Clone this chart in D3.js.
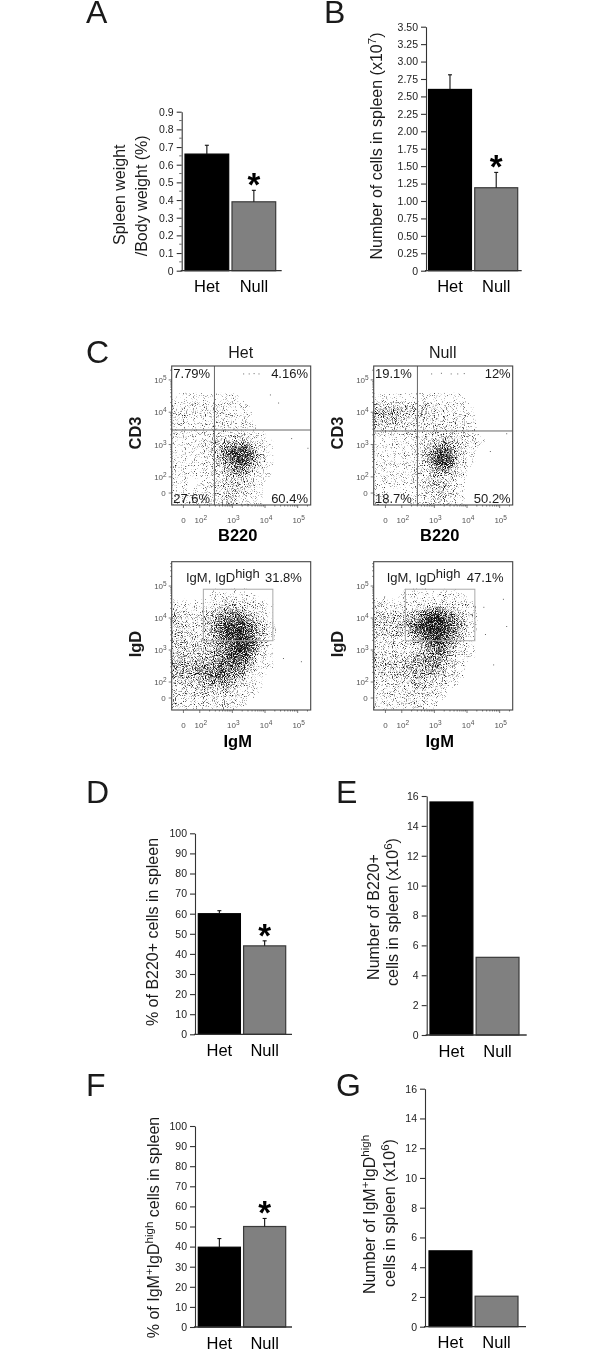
<!DOCTYPE html>
<html><head><meta charset="utf-8">
<script src="https://cdn.jsdelivr.net/npm/d3@7"></script>
<style>
html,body{margin:0;padding:0;background:#fff}
svg{display:block;filter:blur(0.35px)}
text{font-family:"Liberation Sans",Arial,sans-serif;fill:#1a1a1a}
</style></head><body>
<svg id="fig" width="613" height="1350"></svg>
<script>
// ---------- bar chart data ----------
const groups = ["Het", "Null"];
const spleenWeight = [0.66, 0.39];
const spleenWeightTop = [0.71, 0.455];
const spleenCells = [2.6, 1.19];
const spleenCellsTop = [2.81, 1.41];
const b220Percent = [60, 44];
const b220PercentTop = [61.5, 46.5];
const b220Number = [15.6, 5.2];
const igmPercent = [39.7, 50];
const igmPercentTop = [44, 54];
const igmNumber = [5.1, 2.05];
const ticksA = [0,0.1,0.2,0.3,0.4,0.5,0.6,0.7,0.8,0.9];
const ticksB = [0,0.25,0.5,0.75,1,1.25,1.5,1.75,2,2.25,2.5,2.75,3,3.25,3.5];
const ticksPercent = [0,10,20,30,40,50,60,70,80,90,100];
const ticksNumber = [0,2,4,6,8,10,12,14,16];

// ---------- flow cytometry panels ----------
// These are NOT individual events: each digit is a density (0-9) estimated by eye
// from the picture for one cell of a coarse grid. The cloud is drawn as contours of
// this grid; the dotted look is a fixed SVG texture, not data.
const densityCd3Het = [
"00000000000000","00000000000000","00000000000000",
"11111110000000","22222211000000","22112211000000",
"11112221100000","11123444210000","11124688410000",
"11113577410000","11112354210000","11012333100000",
"11112332100000","11112332100000"];
const densityCd3Null = [
"00000000000000","00000000000000","00000000000000",
"11111111100000","44444322110000","44433322210000",
"22222222220000","11112344321000","11112477410000",
"11112488310000","11112354200000","11112333100000",
"11011233100000","11001232100000"];
const densityIgdHet = [
"00000000000000","00000000000000","00000000000000",
"00001111000000","11112332210000","33234665310000",
"33235787520000","33235788520000","33334688510000",
"33345687310000","55556665210000","44456653100000",
"22344432100000","22222221000000","21111210000000"];
const densityIgdNull = [
"00000000000000","00000000000000","00000000000000",
"00011111100000","22112332210000","33334786420000",
"44457997520000","33335797410000","22223575310000",
"33234564210000","34445553100000","33334432100000",
"22223321000000","11222210000000","11112100000000"];
// sparse stray events, in axis exponents [x, y]
const strayHet = [[3.33,5.2],[3.5,5.2],[3.65,5.21],[3.8,5.2],[4.15,4.55],[4.4,4.3],[4.8,3.2],[5.3,2.9]];
const strayNull = [[2.9,5.2],[3.2,5.22],[3.5,5.2],[3.7,5.2],[3.9,5.21],[4.7,2.8],[5.2,3.35]];
const strayIgmHet = [[4.25,3.7],[4.55,2.75],[5.1,2.65],[4.2,2.9]];
const strayIgmNull = [[4.55,3.5],[4.5,4.35],[5.1,4.6],[4.8,2.55],[5.2,3.75]];
const flowTickExps = [1.5,2,3,4,5];
const flowTickLabels = ["0","10","10","10","10"];
const flowTickSups = ["","2","3","4","5"];

const svg = d3.select("#fig");
const defs = svg.append("defs");
const stip = defs.append("filter").attr("id","stipple")
  .attr("x",0).attr("y",0).attr("width",1).attr("height",1)
  .attr("color-interpolation-filters","sRGB");
stip.append("feTurbulence").attr("type","fractalNoise").attr("baseFrequency",1.1)
  .attr("numOctaves",1).attr("seed",4).attr("result","n");
stip.append("feComposite").attr("in","SourceAlpha").attr("in2","n").attr("operator","arithmetic")
  .attr("k1",0).attr("k2",0.4).attr("k3",1).attr("k4",-0.62).attr("result","m");
const ct = stip.append("feComponentTransfer").attr("in","m").attr("result","t");
ct.append("feFuncA").attr("type","linear").attr("slope",4).attr("intercept",0);
const mk = stip.append("feComponentTransfer").attr("in","SourceAlpha").attr("result","mask");
mk.append("feFuncA").attr("type","linear").attr("slope",25).attr("intercept",-0.2);
stip.append("feFlood").attr("flood-color","#111").attr("result","f");
stip.append("feComposite").attr("in","f").attr("in2","t").attr("operator","in").attr("result","d");
stip.append("feComposite").attr("in","d").attr("in2","mask").attr("operator","in").attr("result","e");
stip.append("feGaussianBlur").attr("in","e").attr("stdDeviation",0.2);

function richText(sel, parts){
  // parts: [string, "sup"?]; restores the baseline after each superscript
  let back = 0;
  parts.forEach(([s, kind]) => {
    const t = sel.append("tspan").text(s);
    if (kind === "sup"){ t.attr("dy",-6).attr("font-size","0.72em"); back = 6; }
    else if (back){ t.attr("dy",back); back = 0; }
  });
}
function vText(x, y, parts, size, bold){
  const t = svg.append("text").attr("transform",`translate(${x},${y}) rotate(-90)`)
    .attr("text-anchor","middle").attr("font-size",size).attr("font-weight",bold?"bold":"normal");
  richText(t, parts);
}
function letter(s,x,y){
  svg.append("text").attr("x",x).attr("y",y).attr("font-size",32).text(s);
}

function barPanel(o){
  const y = d3.scaleLinear().domain([0,o.max]).range([o.y0,o.yTop]);
  const x = d3.scaleBand().domain(groups).range([o.b1,o.b2]).paddingInner(0.07);
  const g = svg.append("g");
  g.selectAll("rect.bar").data(groups).join("rect").attr("class","bar")
    .attr("x",d=>x(d)).attr("width",x.bandwidth())
    .attr("y",(d,i)=>y(o.vals[i])).attr("height",(d,i)=>o.y0-y(o.vals[i]))
    .attr("fill",(d,i)=>i?"#808080":"#000")
    .attr("stroke",(d,i)=>i?"#3a3a3a":"#000").attr("stroke-width",1.2);
  if (o.tops){
    const cx = d=>x(d)+x.bandwidth()/2;
    const e = g.selectAll("g.err").data(groups).join("g");
    e.append("line").attr("x1",cx).attr("x2",cx)
      .attr("y1",(d,i)=>y(o.vals[i])).attr("y2",(d,i)=>y(o.tops[i]))
      .attr("stroke","#111").attr("stroke-width",1.1);
    e.append("line").attr("x1",d=>cx(d)-2).attr("x2",d=>cx(d)+2)
      .attr("y1",(d,i)=>y(o.tops[i])).attr("y2",(d,i)=>y(o.tops[i]))
      .attr("stroke","#111").attr("stroke-width",1.1);
    g.append("text").attr("x",cx("Null")).attr("y",y(o.tops[1])+6)
      .attr("text-anchor","middle").attr("font-size",33).attr("font-weight","bold").style("fill","#000").text("*");
  }
  const ax = d3.axisLeft(y).tickValues(o.ticks).tickSize(5).tickPadding(3).tickSizeOuter(0).tickFormat(o.fmt);
  const ag = g.append("g").attr("transform",`translate(${o.x},0)`).call(ax);
  ag.selectAll("text").attr("font-size",10.5).style("font-family",'"Liberation Sans",Arial,sans-serif').style("fill","#222");
  ag.selectAll("line,path").attr("stroke","#333").attr("stroke-width",1.1);
  if (o.minor){
    g.append("g").selectAll("line").data(o.minor).join("line")
      .attr("x1",o.x-2.5).attr("x2",o.x).attr("y1",d=>y(d)).attr("y2",d=>y(d))
      .attr("stroke","#444").attr("stroke-width",0.8);
  }
  g.append("line").attr("x1",o.x-1).attr("x2",o.right).attr("y1",o.y0).attr("y2",o.y0)
    .attr("stroke","#333").attr("stroke-width",1.3);
  const xa = d3.axisBottom(x).tickSize(0).tickPadding(10);
  const xg = g.append("g").attr("transform",`translate(0,${o.y0})`).call(xa);
  xg.select("path").remove();
  xg.selectAll("text").attr("font-size",16.5).style("font-family",'"Liberation Sans",Arial,sans-serif').style("fill","#000");
}

function flowPanel(o){
  const x = d3.scaleLinear().domain([1.14,5.4]).range([o.left,o.left+139]);
  const y = d3.scaleLinear().domain(o.yDomain).range([o.bottom,o.top]);
  const rows = o.grid.length, cols = o.grid[0].length;
  const vals = [];
  o.grid.forEach(r => { for (const ch of r) vals.push(+ch); });
  const gx = d3.scaleLinear().domain([0.5,cols-0.5]).range([o.left,o.left+139]);
  const gy = d3.scaleLinear().domain([0.5,rows-0.5]).range([o.top,o.bottom]);
  const path = d3.geoPath(d3.geoTransform({point(a,b){this.stream.point(gx(a),gy(b));}}));
  const levels = [0.5,1,1.5,2,3,4,5,6,7,8,9];
  const contours = d3.contours().size([cols,rows]).thresholds(levels)(vals);
  const clipId = "c"+Math.round(o.left)+"_"+Math.round(o.top);
  defs.append("clipPath").attr("id",clipId).append("rect")
    .attr("x",o.left).attr("y",o.top).attr("width",139).attr("height",o.bottom-o.top);
  const cloud = svg.append("g").attr("clip-path",`url(#${clipId})`)
    .append("g").attr("filter","url(#stipple)");
  // invisible sheet so that the filter region covers the whole plot
  cloud.append("rect").attr("x",o.left).attr("y",o.top).attr("width",139)
    .attr("height",o.bottom-o.top).attr("fill","#000").attr("fill-opacity",0.001);
  let prev = 0;
  cloud.selectAll("path").data(contours).join("path").attr("d",path).attr("fill","#000")
    .attr("fill-opacity",d=>{
      const a = Math.min(0.95, d.value/9.2);
      const op = (a-prev)/(1-prev); prev = a; return op;
    });
  svg.append("g").selectAll("rect").data(o.stray).join("rect")
    .attr("x",d=>x(d[0])).attr("y",d=>y(d[1])).attr("width",1).attr("height",1).attr("fill","#666");
  // gates
  if (o.quad){
    const q = svg.append("g").attr("stroke","#666").attr("stroke-width",1);
    q.append("line").attr("x1",x(o.quad[0])).attr("x2",x(o.quad[0])).attr("y1",o.top).attr("y2",o.bottom);
    q.append("line").attr("x1",o.left).attr("x2",o.left+139).attr("y1",y(o.quad[1])).attr("y2",y(o.quad[1]));
  }
  if (o.box){
    svg.append("rect").attr("x",x(o.box[0])).attr("width",x(o.box[1])-x(o.box[0]))
      .attr("y",y(o.box[3])).attr("height",y(o.box[2])-y(o.box[3]))
      .attr("fill","none").attr("stroke","#aaa").attr("stroke-width",1);
  }
  svg.append("rect").attr("x",o.left).attr("y",o.top).attr("width",139).attr("height",o.bottom-o.top)
    .attr("fill","none").attr("stroke","#444").attr("stroke-width",1.1);
  // minor / major ticks, from the decade scale
  const minors = [];
  [1,2,3,4,5].forEach(d=>[2,3,4,5,6,7,8,9].forEach(k=>minors.push(d+Math.log10(k))));
  const xm = minors.filter(v=>v<5.4&&v>2), ym = minors.filter(v=>v<o.yDomain[1]&&v>2);
  const tk = svg.append("g").attr("stroke","#444").attr("stroke-width",0.7);
  xm.forEach(v=>tk.append("line").attr("x1",x(v)).attr("x2",x(v)).attr("y1",o.bottom).attr("y2",o.bottom+1.5));
  ym.forEach(v=>tk.append("line").attr("y1",y(v)).attr("y2",y(v)).attr("x1",o.left-1.5).attr("x2",o.left));
  flowTickExps.forEach(v=>{
    tk.append("line").attr("x1",x(v)).attr("x2",x(v)).attr("y1",o.bottom).attr("y2",o.bottom+3);
    tk.append("line").attr("y1",y(v)).attr("y2",y(v)).attr("x1",o.left-3).attr("x2",o.left);
  });
  flowTickExps.forEach((v,i)=>{
    const tx = svg.append("text").attr("x",x(v)+(i?1:0)).attr("y",o.bottom+17.5)
      .attr("text-anchor","middle").attr("font-size",8).style("fill","#555").text(flowTickLabels[i]);
    const ty = svg.append("text").attr("x",o.left-(i?5:6)).attr("y",y(v)+3)
      .attr("text-anchor","end").attr("font-size",8).style("fill","#555").text(flowTickLabels[i]);
    if (flowTickSups[i]){
      tx.append("tspan").attr("dy",-3).attr("font-size",6.5).text(flowTickSups[i]);
      ty.append("tspan").attr("dy",-3).attr("font-size",6.5).text(flowTickSups[i]);
    }
  });
  svg.append("text").attr("x",o.left+66).attr("y",o.xTitleY).attr("text-anchor","middle")
    .attr("font-size",16.5).attr("font-weight","bold").style("fill","#000").text(o.xTitle);
  vText(o.left-31,o.yTitleY,[[o.yTitle]],16.5,true);
}

// ---------- panels ----------
letter("A",86,22.7); letter("B",324,22.7); letter("C",86,362.7);
letter("D",86,802.7); letter("E",336,802.7); letter("F",86,1096); letter("G",336,1096);

const f1 = v=>v===0?"0":d3.format(".1f")(v);
const f2 = v=>v===0?"0":d3.format(".2f")(v);
const f0 = d3.format("d");

barPanel({x:181.7,y0:270.7,yTop:111.7,max:0.9,b1:185,b2:275.7,right:281.7,vals:spleenWeight,tops:spleenWeightTop,ticks:ticksA,fmt:f1,minor:ticksA.slice(0,-1).map(v=>v+0.05)});
vText(125,194.7,[["Spleen weight"]],16);
vText(147,195.8,[["/Body weight (%)"]],16);

barPanel({x:426,y0:270.7,yTop:26.7,max:3.5,b1:428.5,b2:517.7,right:521.7,vals:spleenCells,tops:spleenCellsTop,ticks:ticksB,fmt:f2});
vText(381.7,146,[["Number of cells in spleen (x10"],["7","sup"],[")"]],16);

barPanel({x:195,y0:1034.3,yTop:833.3,max:100,b1:198.3,b2:285.7,right:292,vals:b220Percent,tops:b220PercentTop,ticks:ticksPercent,fmt:f0});
vText(158,932,[["% of B220+ cells in spleen"]],16);

barPanel({x:426.7,y0:1035,yTop:796,max:16,b1:430,b2:519,right:526.7,vals:b220Number,ticks:ticksNumber,fmt:f0});
vText(379.3,917,[["Number of B220+"]],16);
vText(398,912,[["cells in spleen (x10"],["6","sup"],[")"]],16);

barPanel({x:195,y0:1327,yTop:1126,max:100,b1:198.3,b2:285.7,right:292,vals:igmPercent,tops:igmPercentTop,ticks:ticksPercent,fmt:f0});
vText(159,1227.5,[["% of IgM"],["+","sup"],["IgD"],["high","sup"],[" cells in spleen"]],16);

barPanel({x:425,y0:1326.7,yTop:1088.7,max:16,b1:429,b2:518,right:526,vals:igmNumber,ticks:ticksNumber,fmt:f0});
vText(375,1214.5,[["Number of IgM"],["+","sup"],["IgD"],["high","sup"]],16);
vText(395,1213,[["cells in spleen (x10"],["6","sup"],[")"]],16);

// flow plots
const cd3Y=[1.13,5.43], igdY=[1.125,5.76];
flowPanel({left:171.7,top:366,bottom:505,yDomain:cd3Y,grid:densityCd3Het,stray:strayHet,quad:[2.45,3.45],xTitle:"B220",xTitleY:540.7,yTitle:"CD3",yTitleY:433});
flowPanel({left:373.7,top:366,bottom:505,yDomain:cd3Y,grid:densityCd3Null,stray:strayNull,quad:[2.48,3.42],xTitle:"B220",xTitleY:540.7,yTitle:"CD3",yTitleY:433});
flowPanel({left:171.7,top:561.7,bottom:710,yDomain:igdY,grid:densityIgdHet,stray:strayIgmHet,box:[2.11,4.24,3.29,4.9],xTitle:"IgM",xTitleY:746.7,yTitle:"IgD",yTitleY:644});
flowPanel({left:373.7,top:561.7,bottom:710,yDomain:igdY,grid:densityIgdNull,stray:strayIgmNull,box:[2.11,4.24,3.29,4.9],xTitle:"IgM",xTitleY:746.7,yTitle:"IgD",yTitleY:644});

function label(s,x,y,anchor,size){
  return svg.append("text").attr("x",x).attr("y",y).attr("text-anchor",anchor||"start").attr("font-size",size||13).text(s);
}
label("Het",240.7,357.7,"middle",16); label("Null",442.7,357.7,"middle",16);
label("7.79%",173.3,377.7); label("4.16%",308,377.7,"end");
label("27.6%",173.3,503); label("60.4%",308,503,"end");
label("19.1%",375,377.7); label("12%",510.7,377.7,"end");
label("18.7%",375,503); label("50.2%",510.7,503,"end");
[[186,265,"31.8%"],[386.7,466.7,"47.1%"]].forEach(([a,b,p])=>{
  const t = label("IgM, IgD",a,582.3);
  t.append("tspan").attr("dy",-4).text("high");
  label(p,b,582.3);
});
</script>
</body></html>
